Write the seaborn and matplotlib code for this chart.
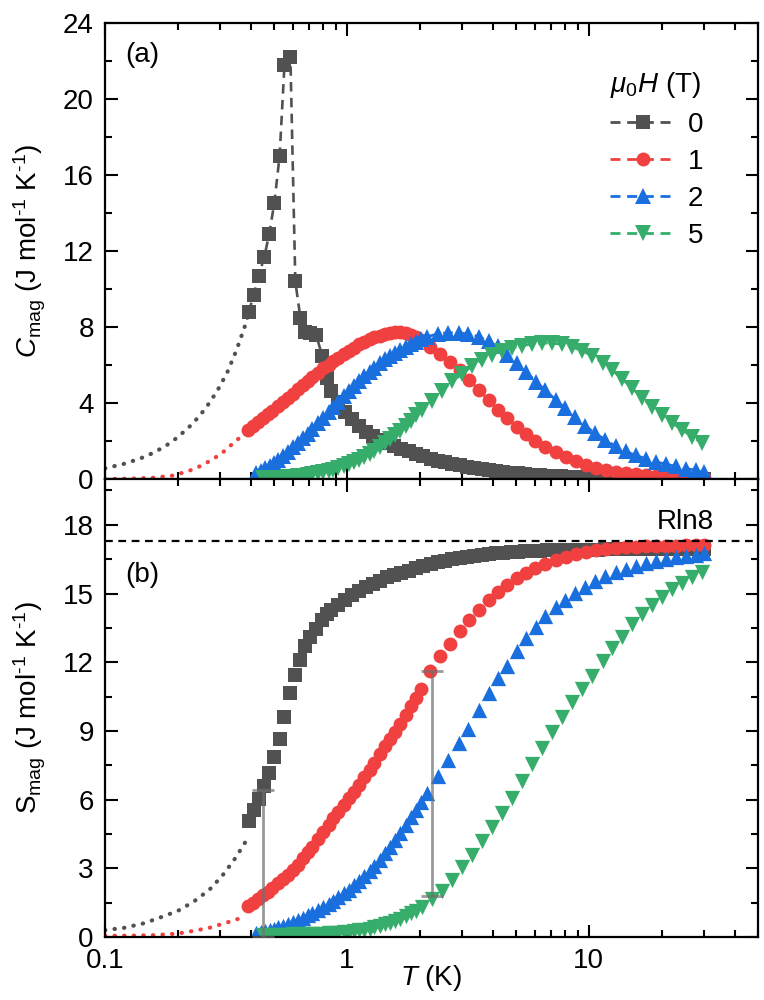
import numpy as np
import matplotlib
matplotlib.use("Agg")
import matplotlib.pyplot as plt
import seaborn as sns
from matplotlib.lines import Line2D
from matplotlib.ticker import MultipleLocator, AutoMinorLocator, LogLocator, FuncFormatter

# ---------------- data ----------------
# 0 T (grey squares)
T0 = [0.393, 0.412, 0.432, 0.456, 0.477, 0.501, 0.527, 0.552, 0.584, 0.612, 0.642, 0.673, 0.705, 0.745, 0.79, 0.83,
      0.86, 0.92, 0.98, 1.05, 1.12, 1.2, 1.28, 1.37, 1.47, 1.57, 1.68, 1.8, 1.93, 2.07, 2.22, 2.38, 2.55, 2.73, 2.93,
      3.14, 3.36, 3.6, 3.86, 4.14, 4.43, 4.75, 5.09, 5.45, 5.84, 6.26, 6.71, 7.19, 7.7, 8.25, 8.84, 9.47, 10.1, 10.9,
      11.7, 12.5, 13.4, 14.3, 15.4, 16.5, 17.6, 18.9, 20.3, 21.7, 23.3, 24.9, 26.7, 28.6, 30.0]
C0 = [8.8, 9.7, 10.7, 11.7, 12.9, 14.5, 17.0, 21.8, 22.2, 10.4, 8.5, 7.75, 7.7, 7.6, 6.5, 5.3,
      4.65, 4.05, 3.55, 3.15, 2.8, 2.5, 2.25, 2.05, 1.88, 1.72, 1.58, 1.45, 1.33, 1.2, 1.07, 0.97, 0.88, 0.8, 0.72,
      0.64, 0.57, 0.51, 0.46, 0.41, 0.37, 0.33, 0.29, 0.26, 0.23, 0.2, 0.18, 0.16, 0.14, 0.13, 0.11, 0.1, 0.09, 0.08,
      0.07, 0.065, 0.06, 0.055, 0.05, 0.045, 0.04, 0.037, 0.034, 0.031, 0.028, 0.026, 0.024, 0.022, 0.02]
S0 = [5.05, 5.56, 6.03, 6.58, 7.17, 7.87, 8.63, 9.6, 10.65, 11.45, 12.1, 12.7, 13.1, 13.45, 13.85, 14.1,
      14.28, 14.5, 14.72, 14.92, 15.1, 15.27, 15.42, 15.56, 15.7, 15.8, 15.9, 16.0, 16.1, 16.2, 16.28, 16.36, 16.43,
      16.5, 16.55, 16.6, 16.65, 16.69, 16.72, 16.75, 16.78, 16.8, 16.82, 16.84, 16.86, 16.87, 16.88, 16.89, 16.9,
      16.91, 16.91, 16.92, 16.92, 16.92, 16.93, 16.93, 16.93, 16.93, 16.93, 16.93, 16.93, 16.94, 16.94, 16.94, 16.94,
      16.94, 16.94, 16.94, 16.94]

# 1 T (red circles)
T1 = [0.39, 0.41, 0.43, 0.45, 0.47, 0.49, 0.52, 0.545, 0.57, 0.6, 0.63, 0.66, 0.69, 0.72, 0.76, 0.8, 0.84, 0.88,
      0.92, 0.97, 1.02, 1.07, 1.12, 1.18, 1.24, 1.3, 1.37, 1.44, 1.51, 1.58, 1.66, 1.75, 1.84, 1.93, 2.03,
      2.2, 2.43, 2.67, 2.93, 3.2, 3.5, 3.85, 4.2, 4.6, 5.05, 5.5, 6.0, 6.6, 7.3, 8.05, 8.85, 9.75, 10.7, 11.8,
      13.0, 14.3, 15.7, 17.3, 19.0, 20.9, 23.0, 25.3, 27.8, 30.0]
C1 = [2.6, 2.8, 3.0, 3.2, 3.4, 3.57, 3.85, 4.05, 4.25, 4.5, 4.72, 4.95, 5.15, 5.35, 5.6, 5.82, 6.02, 6.2,
      6.37, 6.56, 6.73, 6.9, 7.08, 7.22, 7.35, 7.45, 7.55, 7.63, 7.7, 7.73, 7.73, 7.68, 7.6, 7.48, 7.32,
      6.95, 6.6, 6.17, 5.74, 5.22, 4.7, 4.16, 3.65, 3.2, 2.75, 2.38, 2.0, 1.7, 1.42, 1.18, 0.95, 0.76, 0.6, 0.48,
      0.39, 0.31, 0.25, 0.2, 0.16, 0.13, 0.11, 0.09, 0.07, 0.06]
S1 = [1.35, 1.5, 1.65, 1.82, 1.98, 2.12, 2.35, 2.52, 2.7, 2.92, 3.15, 3.45, 3.7, 3.95, 4.27, 4.58, 4.9, 5.18,
      5.45, 5.75, 6.05, 6.35, 6.65, 6.98, 7.3, 7.62, 7.97, 8.32, 8.65, 8.97, 9.32, 9.7, 10.08, 10.44, 10.82,
      11.6, 12.25, 12.8, 13.35, 13.85, 14.3, 14.7, 15.05, 15.38, 15.66, 15.9, 16.12, 16.3, 16.47, 16.6, 16.72,
      16.82, 16.9, 16.95, 16.99, 17.02, 17.04, 17.06, 17.07, 17.08, 17.09, 17.1, 17.1, 17.11]

# 2 T (blue up-triangles)
T2 = [0.42, 0.44, 0.46, 0.48, 0.5, 0.52, 0.545, 0.57, 0.6, 0.63, 0.66, 0.69, 0.72, 0.76, 0.8, 0.84, 0.88, 0.92,
      0.97, 1.02, 1.07, 1.12, 1.18, 1.24, 1.3, 1.37, 1.44, 1.51, 1.58, 1.66, 1.75, 1.84, 1.93, 2.03,
      2.15, 2.39, 2.62, 2.9, 3.18, 3.5, 3.85, 4.2, 4.6, 5.05, 5.5, 6.05, 6.6, 7.3, 8.0, 8.8, 9.65, 10.6, 11.7,
      12.9, 14.2, 15.6, 17.2, 19.0, 20.9, 23.0, 25.3, 27.8, 30.0]
C2 = [0.3, 0.42, 0.56, 0.7, 0.86, 1.02, 1.22, 1.42, 1.66, 1.9, 2.14, 2.38, 2.62, 2.93, 3.23, 3.52, 3.8, 4.06,
      4.36, 4.64, 4.9, 5.14, 5.4, 5.63, 5.85, 6.08, 6.3, 6.48, 6.64, 6.8, 6.96, 7.1, 7.22, 7.35,
      7.49, 7.65, 7.7, 7.7, 7.62, 7.5, 7.25, 6.98, 6.55, 6.1, 5.65, 5.12, 4.68, 4.16, 3.72, 3.28, 2.8, 2.42, 2.06,
      1.72, 1.45, 1.25, 1.07, 0.9, 0.78, 0.66, 0.55, 0.46, 0.38]
S2 = [0.18, 0.22, 0.27, 0.32, 0.37, 0.43, 0.5, 0.57, 0.66, 0.75, 0.85, 0.95, 1.05, 1.18, 1.31, 1.45, 1.59, 1.73,
      1.9, 2.07, 2.25, 2.43, 2.65, 2.88, 3.1, 3.38, 3.66, 3.95, 4.22, 4.53, 4.88, 5.22, 5.55, 5.9,
      6.3, 7.05, 7.72, 8.45, 9.1, 9.9, 10.65, 11.3, 11.85, 12.48, 13.05, 13.52, 14.0, 14.4, 14.72, 15.03, 15.3,
      15.53, 15.75, 15.92, 16.07, 16.2, 16.32, 16.42, 16.5, 16.58, 16.65, 16.7, 16.75]

# 5 T (green down-triangles)
T5 = [0.45, 0.47, 0.49, 0.52, 0.545, 0.57, 0.6, 0.63, 0.66, 0.69, 0.72, 0.76, 0.8, 0.84, 0.88, 0.92, 0.97, 1.02,
      1.07, 1.12, 1.18, 1.24, 1.3, 1.37, 1.44, 1.51, 1.58, 1.66, 1.75, 1.84, 1.93,
      2.04, 2.24, 2.47, 2.73, 3.0, 3.3, 3.62, 3.98, 4.38, 4.82, 5.3, 5.83, 6.41, 7.05, 7.76, 8.53, 9.39, 10.3,
      11.4, 12.5, 13.7, 15.1, 16.6, 18.3, 20.1, 22.1, 24.3, 26.8, 29.4]
C5 = [0.03, 0.04, 0.05, 0.06, 0.07, 0.09, 0.11, 0.14, 0.17, 0.2, 0.24, 0.29, 0.35, 0.42, 0.5, 0.58, 0.68, 0.79,
      0.9, 1.02, 1.17, 1.33, 1.5, 1.7, 1.9, 2.1, 2.3, 2.53, 2.8, 3.07, 3.35,
      3.63, 4.1, 4.65, 5.15, 5.55, 5.95, 6.28, 6.55, 6.75, 6.9, 7.02, 7.1, 7.15, 7.15, 7.08, 6.95, 6.75, 6.48,
      6.1, 5.72, 5.28, 4.78, 4.27, 3.78, 3.35, 2.95, 2.58, 2.22, 1.88]
S5 = [0.08, 0.08, 0.09, 0.09, 0.1, 0.1, 0.11, 0.11, 0.12, 0.12, 0.13, 0.14, 0.15, 0.16, 0.17, 0.19, 0.21, 0.23,
      0.26, 0.29, 0.32, 0.37, 0.42, 0.48, 0.55, 0.62, 0.7, 0.79, 0.9, 1.03, 1.15,
      1.3, 1.65, 2.0, 2.48, 3.05, 3.6, 4.2, 4.82, 5.42, 6.05, 6.8, 7.55, 8.25, 8.95, 9.62, 10.25, 10.85, 11.4,
      12.05, 12.6, 13.1, 13.65, 14.1, 14.5, 14.85, 15.2, 15.47, 15.72, 15.95]

# low-T extrapolations (dotted)
TC0_fit = [0.1, 0.12, 0.14, 0.16, 0.18, 0.2, 0.23, 0.26, 0.29, 0.32, 0.35, 0.38, 0.39]
C0_fit = [0.56, 0.8, 1.08, 1.4, 1.78, 2.2, 2.9, 3.7, 4.6, 5.6, 6.8, 8.1, 8.6]
TC1_fit = [0.1, 0.13, 0.16, 0.19, 0.22, 0.25, 0.28, 0.31, 0.34, 0.37, 0.39]
C1_fit = [0.0, 0.02, 0.07, 0.18, 0.4, 0.7, 1.05, 1.45, 1.9, 2.3, 2.55]
TS0_fit = [0.1, 0.12, 0.145, 0.17, 0.2, 0.233, 0.27, 0.305, 0.34, 0.375, 0.385]
S0_fit = [0.3, 0.4, 0.6, 0.86, 1.14, 1.55, 2.06, 2.67, 3.33, 4.03, 4.25]
TS1_fit = [0.1, 0.13, 0.16, 0.2, 0.233, 0.27, 0.305, 0.34, 0.375]
S1_fit = [0.05, 0.06, 0.08, 0.15, 0.27, 0.4, 0.57, 0.72, 0.88]

RLN8 = 17.29
BAR_T = [0.45, 2.25]
BAR_LO = [0.0, 1.8]
BAR_HI = [6.4, 11.6]

FIELDS = ["0", "1", "2", "5"]
COLORS = ["#515151", "#F14040", "#1A6FDF", "#37AD6B"]
MARKERS = ["s", "o", "^", "v"]

# ---------------- style ----------------
sns.set_theme(style="ticks")
plt.rcParams['font.family'] = ['Liberation Sans', 'DejaVu Sans']
plt.rcParams['mathtext.fontset'] = 'custom'
plt.rcParams['mathtext.rm'] = 'Liberation Sans'
plt.rcParams['mathtext.it'] = 'Liberation Sans:italic'
plt.rcParams['mathtext.bf'] = 'Liberation Sans:bold'
for key in ['text.color', 'axes.labelcolor', 'xtick.color', 'ytick.color', 'axes.edgecolor']:
    plt.rcParams[key] = 'black'
FS = 20

fig = plt.figure(figsize=(7.64, 10), dpi=100)
ax1 = fig.add_axes([0.1374, 0.521, 0.8547, 0.456])
ax2 = fig.add_axes([0.1374, 0.063, 0.8547, 0.458], sharex=ax1)

series = [(T0, C0, S0), (T1, C1, S1), (T2, C2, S2), (T5, C5, S5)]
msize = [9.5, 10.0, 11.0, 11.0]
dotted = (0, (0.1, 2.2))
dashed = (0, (3.6, 2.4))

# (a) heat capacity
for Tf, Cf, col in [(TC0_fit, C0_fit, COLORS[0]), (TC1_fit, C1_fit, COLORS[1])]:
    sns.lineplot(x=Tf, y=Cf, ax=ax1, color=col, linestyle=dotted, linewidth=3.0,
                 dash_capstyle='round', sort=False, estimator=None)
for (T, C, S), col, mk, ms in zip(series, COLORS, MARKERS, msize):
    sns.lineplot(x=T, y=C, ax=ax1, color=col, marker=mk, markersize=ms, markeredgewidth=0,
                 linestyle=dashed, linewidth=1.9, sort=False, estimator=None)

# (b) entropy
for Tf, Sf, col in [(TS0_fit, S0_fit, COLORS[0]), (TS1_fit, S1_fit, COLORS[1])]:
    sns.lineplot(x=Tf, y=Sf, ax=ax2, color=col, linestyle=dotted, linewidth=3.0,
                 dash_capstyle='round', sort=False, estimator=None)
for (T, C, S), col, mk, ms in zip(series, COLORS, MARKERS, msize):
    sns.scatterplot(x=T, y=S, ax=ax2, color=col, marker=mk, s=ms ** 2, linewidth=0)

ax2.axhline(RLN8, color='black', linestyle=(0, (3.5, 2.5)), linewidth=1.6, zorder=1)
ax2.text(33, RLN8 + 0.85, "Rln8", fontsize=FS, ha='right', va='center')

lo = np.array(BAR_LO)
hi = np.array(BAR_HI)
ax2.errorbar(BAR_T, lo, yerr=[np.zeros_like(lo), hi - lo], fmt='none', ecolor='#707070',
             elinewidth=2.0, capsize=8, capthick=2.0, alpha=0.7, zorder=5)

# ---------------- axes ----------------
for ax in (ax1, ax2):
    ax.set_xscale('log')
    ax.set_xlim(0.1, 50)
    ax.xaxis.set_major_locator(LogLocator(base=10))
    ax.xaxis.set_minor_locator(LogLocator(base=10, subs=np.arange(2, 10)))
    ax.xaxis.set_major_formatter(FuncFormatter(lambda v, p: f"{v:g}"))
    ax.tick_params(which='both', direction='in', top=True, right=True, width=1.5, labelsize=FS,
                   pad=8, colors='black')
    ax.tick_params(which='major', length=9)
    ax.tick_params(which='minor', length=5)
    for sp in ax.spines.values():
        sp.set_linewidth(1.6)
        sp.set_color('black')

ax1.set_ylim(0, 24)
ax1.yaxis.set_major_locator(MultipleLocator(4))
ax1.yaxis.set_minor_locator(AutoMinorLocator(2))
ax1.tick_params(labelbottom=False)
ax1.set_xlabel("")
ax1.set_ylabel("$C_{\\mathrm{mag}}$ (J mol$^{\u20101}$ K$^{\u20101}$)", fontsize=FS, labelpad=11)

ax2.set_ylim(0, 20)
ax2.yaxis.set_major_locator(MultipleLocator(3))
ax2.yaxis.set_minor_locator(AutoMinorLocator(2))
ax2.set_ylabel("$\\mathrm{S}_{\\mathrm{mag}}$ (J mol$^{\u20101}$ K$^{\u20101}$)", fontsize=FS, labelpad=11)
ax2.set_xlabel(r"$T$ (K)", fontsize=FS, labelpad=-8)

ax1.text(0.031, 0.93, "(a)", transform=ax1.transAxes, fontsize=FS, ha='left', va='center')
ax2.text(0.031, 0.79, "(b)", transform=ax2.transAxes, fontsize=FS, ha='left', va='center')

handles = [Line2D([], [], color=c, marker=m, markersize=ms, markeredgewidth=0,
                  linestyle=dashed, linewidth=2.0)
           for c, m, ms in zip(COLORS, MARKERS, msize)]
leg = ax1.legend(handles, FIELDS, title=r"$\mu_0H$ (T)", loc='upper left', bbox_to_anchor=(0.773, 0.896),
                 frameon=False, fontsize=FS, title_fontsize=FS, handlelength=2.4, handletextpad=0.4,
                 labelspacing=0.4, borderpad=0, borderaxespad=0, numpoints=1, alignment='left')

fig.align_ylabels([ax1, ax2])
fig.savefig("out.png", dpi=100)
